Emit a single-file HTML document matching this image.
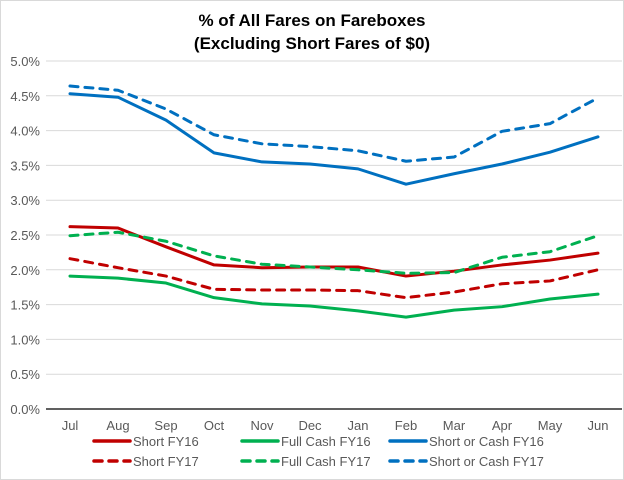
<!DOCTYPE html>
<html><head><meta charset="utf-8"><style>
body{margin:0;background:#fff}
svg{display:block;font-family:"Liberation Sans",Arial,sans-serif}
</style></head><body>
<svg width="624" height="480" viewBox="0 0 624 480">
<rect x="0.5" y="0.5" width="623" height="479" fill="#fff" stroke="#d9d9d9"/>
<text x="312" y="26" text-anchor="middle" font-size="17" font-weight="bold">% of All Fares on Fareboxes</text>
<text x="312" y="49" text-anchor="middle" font-size="17" font-weight="bold">(Excluding Short Fares of $0)</text>
<g id="grid"></g><g id="series"></g><g id="legend"></g>
</svg>
<script>
const categories=["Jul","Aug","Sep","Oct","Nov","Dec","Jan","Feb","Mar","Apr","May","Jun"];
const yTicks=[0,0.5,1,1.5,2,2.5,3,3.5,4,4.5,5];
const shortFY16=[2.62,2.60,2.33,2.07,2.03,2.04,2.04,1.91,1.98,2.07,2.14,2.24];
const shortFY17=[2.16,2.03,1.91,1.72,1.71,1.71,1.70,1.60,1.68,1.80,1.84,2.00];
const fullCashFY16=[1.91,1.88,1.81,1.60,1.51,1.48,1.41,1.32,1.42,1.47,1.58,1.65];
const fullCashFY17=[2.49,2.54,2.41,2.20,2.08,2.04,2.00,1.95,1.96,2.18,2.26,2.49];
const shortCashFY16=[4.53,4.48,4.15,3.68,3.55,3.52,3.45,3.23,3.38,3.52,3.69,3.91];
const shortCashFY17=[4.64,4.58,4.31,3.94,3.81,3.77,3.71,3.56,3.62,3.99,4.10,4.47];
const NS="http://www.w3.org/2000/svg";
const L=46,R=622,T=61,B=409;
const x=i=>L+(R-L)/categories.length*(i+0.5);
const y=v=>B-(v/5)*(B-T);
function mk(t,a,p){const e=document.createElementNS(NS,t);for(const k in a)e.setAttribute(k,a[k]);p.appendChild(e);return e;}
const g=document.getElementById('grid');
yTicks.forEach((v,i)=>{
 const ln=mk('line',{x1:L,x2:R,y1:y(v),y2:y(v),stroke:v===0?'#000':'#d9d9d9','stroke-width':v===0?1.3:1},g);
 
 
 const t=mk('text',{x:40,y:y(v)+5,'text-anchor':'end','font-size':13,fill:'#595959'},g);
 t.textContent=v.toFixed(1)+'%';
 
 
});
categories.forEach((c,i)=>{
 const t=mk('text',{x:x(i),y:430,'text-anchor':'middle','font-size':13,fill:'#595959'},g);
 t.textContent=c;
 
 
});
const series=[
 {n:"Short FY16",d:shortFY16,c:"#C00000",dash:false},
 {n:"Full Cash FY16",d:fullCashFY16,c:"#00B050",dash:false},
 {n:"Short or Cash FY16",d:shortCashFY16,c:"#0070C0",dash:false},
 {n:"Short FY17",d:shortFY17,c:"#C00000",dash:true},
 {n:"Full Cash FY17",d:fullCashFY17,c:"#00B050",dash:true},
 {n:"Short or Cash FY17",d:shortCashFY17,c:"#0070C0",dash:true}];
const sg=document.getElementById('series'),lg=document.getElementById('legend');
const lx=[94,242,390];
series.forEach((s,k)=>{
 const p=mk('polyline',{points:s.d.map((v,i)=>x(i)+','+y(v)).join(' '),fill:'none',stroke:s.c,'stroke-width':3,'stroke-linejoin':'round','stroke-linecap':'round'},sg);
 if(s.dash)p.setAttribute('stroke-dasharray','8,7');
 
 
 const col=k%3,row=Math.floor(k/3),ly=row?461:441;
 const l=mk('line',{x1:lx[col],x2:lx[col]+36,y1:ly,y2:ly,stroke:s.c,'stroke-width':3.5,'stroke-linecap':'round'},lg);
 if(s.dash)l.setAttribute('stroke-dasharray','8,7');
 
 
 const t=mk('text',{x:lx[col]+39,y:ly+5,'font-size':13,fill:'#595959'},lg);
 t.textContent=s.n;
 
 
});
</script>
</body></html>
